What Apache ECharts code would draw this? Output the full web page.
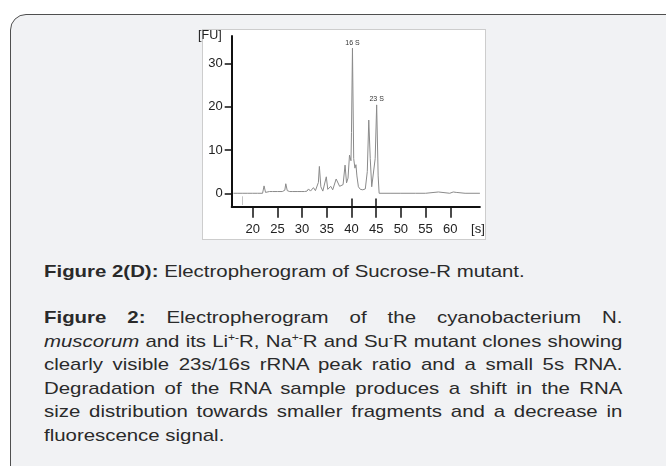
<!DOCTYPE html>
<html>
<head>
<meta charset="utf-8">
<script src="https://cdn.jsdelivr.net/npm/echarts@6/dist/echarts.min.js"></script>
<style>
    html, body { margin: 0; padding: 0; width: 666px; height: 466px; background: #fff; overflow: hidden; }
    #panel {
        position: absolute; left: 10px; top: 14px; width: 700px; height: 480px;
        background: #f1f2f4; border: 1.5px solid #4f4f4f; border-radius: 16px; box-sizing: border-box;
    }
    #frame {
        position: absolute; left: 202px; top: 29px; width: 284px; height: 211px;
        background: #fff; border: 1px solid #cdcdcd; box-sizing: border-box;
    }
    #chart { position: absolute; left: 190px; top: 20px; width: 300px; height: 222px; }
    .caption {
        position: absolute; left: 44px; width: 482px;
        transform: scaleX(1.2); transform-origin: 0 0;
        font-family: 'Liberation Sans', Arial, sans-serif; font-size: 17px; line-height: 23.5px; color: #2a2a2a;
    }
    .caption div { white-space: nowrap; text-align: justify; text-align-last: justify; }
    .caption div.last { text-align-last: left; }
    sup { font-size: 10px; vertical-align: 6px; line-height: 0; }
</style>
</head>
<body>
<div id="panel"></div>
<div id="frame"></div>
<div id="chart"></div>

<div class="caption" style="top: 259.5px;">
    <div class="last"><b>Figure 2(D):</b> Electropherogram of Sucrose-R mutant.</div>
</div>
<div class="caption" style="top: 306px;">
    <div><b>Figure 2:</b> Electropherogram of the cyanobacterium N.</div>
    <div><i>muscorum</i> and its Li<sup>+-</sup>R, Na<sup>+-</sup>R and Su<sup>-</sup>R mutant clones showing</div>
    <div>clearly visible 23s/16s rRNA peak ratio and a small 5s RNA.</div>
    <div>Degradation of the RNA sample produces a shift in the RNA</div>
    <div>size distribution towards smaller fragments and a decrease in</div>
    <div class="last">fluorescence signal.</div>
</div>

<script>
// migration time [s] and fluorescence [FU]
const traceX = [
    16.1, 17, 18, 19, 20, 21, 22, 22.3, 22.6, 23, 23.4, 23.7, 24, 25, 26, 26.5, 26.7, 27, 27.5, 28,
    29, 29.8, 30.1, 30.5, 31, 31.3, 31.7, 32, 32.3, 32.7, 33, 33.3, 33.5, 33.8, 34.2, 34.6, 34.9, 35.2,
    35.5, 35.8, 36.2, 36.6, 36.9, 37.3, 37.6, 37.9, 38.3, 38.7, 39, 39.3, 39.6, 39.9, 40, 40.2, 40.45,
    40.7, 40.9, 41.1, 41.4, 41.8, 42.3, 42.8, 43.2, 43.5, 43.8, 44.1, 44.4, 44.8, 45.1, 45.4, 45.6,
    46, 48, 50, 50.2, 50.4, 53, 55, 57.6, 57.8, 59.9, 60, 60.2, 60.6, 60.8, 61.2, 61.4, 63, 66
];
const traceY = [
    0, 0, 0, 0, 0, 0, 0, 1.7, 0.2, 0, 0.4, 0.1, 0.4, 0.4, 0.4, 0.7, 2.2, 0.6, 0.4, 0.4,
    0.4, 0.4, 0.8, 0.4, 0.5, 1.0, 0.5, 0.7, 1.3, 0.6, 0.9, 2.5, 6.2, 1.5, 0.5, 0.8, 3.8, 0.9,
    0.8, 1.6, 0.8, 1.2, 3.3, 3.4, 1.6, 1.2, 2.0, 6.5, 2.4, 3.5, 8.8, 7.5, 14, 33.5, 8,
    5.8, 6.6, 4, 1.5, 0.9, 0.8, 1.0, 5, 16.9, 8, 1.5, 1.3, 8, 20.4, 4, 0,
    0, 0, 0, 0.3, 0, 0, 0, 0.3, 0, 0, 0.3, 0, 0.3, 0, 0.2, 0, 0, 0
];

const peakNames = ['16 S', '23 S'];
const peakX = [40.2, 45.1];
const peakY = [33.5, 20.4];

const xTickValues = [20, 25, 30, 35, 40, 45, 50, 55, 60];
const xLabelValues = [20, 25, 30, 35, 40, 45, 50, 55, 60, 65.6];
const xLabelTexts = ['20', '25', '30', '35', '40', '45', '50', '55', '60', '[s]'];
const yTickValues = [0, 10, 20, 30];
const innerTickValues = [40, 45];
const injectionMark = 17.97;

const xMin = 15.75, xMax = 66;
const yMin = -3.1, yMax = 36.3;

const chart = echarts.init(document.getElementById('chart'));
const labelFont = "'Liberation Sans', sans-serif";

const option = {
    animation: false,
    grid: { left: 41.7, top: 16, width: 248.2, height: 170.7, outerBoundsMode: 'none' },
    xAxis: {
        type: 'value',
        min: xMin,
        max: xMax,
        splitLine: { show: false },
        axisLine: { onZero: false, lineStyle: { color: '#111', width: 2 } },
        axisTick: { customValues: xTickValues, length: 11, lineStyle: { color: '#111', width: 1.5 } },
        axisLabel: {
            customValues: xLabelValues,
            formatter: (v) => xLabelTexts[xLabelValues.indexOf(v)],
            margin: 16,
            color: '#222',
            fontSize: 13,
            fontFamily: labelFont
        }
    },
    yAxis: {
        type: 'value',
        min: yMin,
        max: yMax,
        name: '[FU]',
        nameLocation: 'end',
        nameGap: -6,
        nameTextStyle: { align: 'right', padding: [0, 10, 0, 0], color: '#222', fontSize: 12.5, fontFamily: labelFont },
        splitLine: { show: false },
        axisLine: { onZero: false, lineStyle: { color: '#111', width: 2 } },
        axisTick: { customValues: yTickValues, length: 7, lineStyle: { color: '#111', width: 1.5 } },
        axisLabel: { customValues: yTickValues, margin: 9, color: '#222', fontSize: 13, fontFamily: labelFont }
    },
    series: [
        {
            type: 'line',
            data: traceX.map((x, i) => [x, traceY[i]]),
            symbol: 'none',
            lineStyle: { color: '#8a8a8a', width: 1 },
            markPoint: {
                symbol: 'circle',
                symbolSize: 0,
                label: { show: true, position: 'top', distance: 2, formatter: '{b}', fontSize: 7, color: '#333', fontFamily: labelFont },
                data: peakNames.map((n, i) => ({ name: n, coord: [peakX[i], peakY[i]] }))
            },
            markLine: {
                silent: true,
                symbol: 'none',
                label: { show: false },
                data: innerTickValues.map((v) => [
                    { coord: [v, yMin], lineStyle: { color: '#111', width: 1.5, type: 'solid' } },
                    { coord: [v, -1.2] }
                ]).concat([[
                    { coord: [injectionMark, -2.7], lineStyle: { color: '#c4c4c4', width: 1, type: 'solid' } },
                    { coord: [injectionMark, -0.7] }
                ]])
            }
        }
    ]
};

chart.setOption(option);
</script>
</body>
</html>
